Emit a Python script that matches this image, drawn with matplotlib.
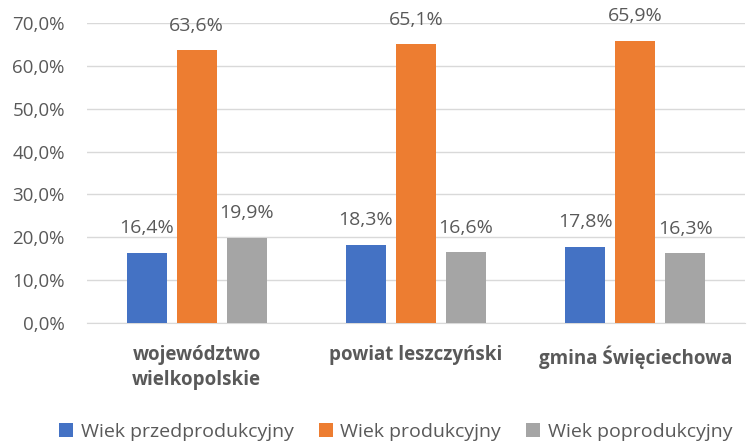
import matplotlib.pyplot as plt
import numpy as np

plt.rcParams['font.family'] = ['Open Sans', 'DejaVu Sans']

categories = ['województwo\nwielkopolskie', 'powiat leszczyński', 'gmina Święciechowa']
series_names = ['Wiek przedprodukcyjny', 'Wiek produkcyjny', 'Wiek poprodukcyjny']
przed = [16.4, 18.3, 17.8]
prod = [63.6, 65.1, 65.9]
popr = [19.9, 16.6, 16.3]
colors = ['#4472C4', '#ED7D31', '#A5A5A5']
text_color = '#595959'

fig = plt.figure(figsize=(7.47, 4.43), dpi=100)
ax = fig.add_axes([87 / 747, 120 / 443, 658 / 747, 300 / 443])

x = np.arange(len(categories))
width = 0.183
step = 0.228
for i, (vals, name, c) in enumerate(zip([przed, prod, popr], series_names, colors)):
    bars = ax.bar(x + (i - 1) * step, vals, width, color=c, label=name, zorder=3)
    for b, v in zip(bars, vals):
        ax.annotate(f'{v:.1f}%'.replace('.', ','), (b.get_x() + b.get_width() / 2, v),
                    xytext=(0, 11), textcoords='offset points',
                    ha='center', va='bottom', fontsize=14, color=text_color)

ax.set_xlim(-0.5, 2.5)
ax.set_ylim(0, 70)
ax.set_yticks(np.arange(0, 71, 10))
ax.set_yticklabels([f'{t:.1f}%'.replace('.', ',') for t in np.arange(0, 71, 10)])
ax.set_xticks(x)
ax.set_xticklabels(categories, fontweight='bold', fontsize=13.5, color=text_color, linespacing=1.3)
ax.tick_params(axis='y', length=0, labelsize=13.5, labelcolor=text_color, pad=16)
ax.tick_params(axis='x', length=0, pad=16)
ax.grid(axis='y', color='#D9D9D9', linewidth=1, zorder=0)
for s in ['top', 'right', 'left']:
    ax.spines[s].set_visible(False)
ax.spines['bottom'].set_color('#D9D9D9')

fig.legend(loc='lower center', bbox_to_anchor=(0.53, -0.035), ncol=3, frameon=False,
           fontsize=14, labelcolor=text_color, handlelength=0.7, handleheight=0.7,
           handletextpad=0.4, columnspacing=1.3)

fig.savefig('out.png', dpi=100)
